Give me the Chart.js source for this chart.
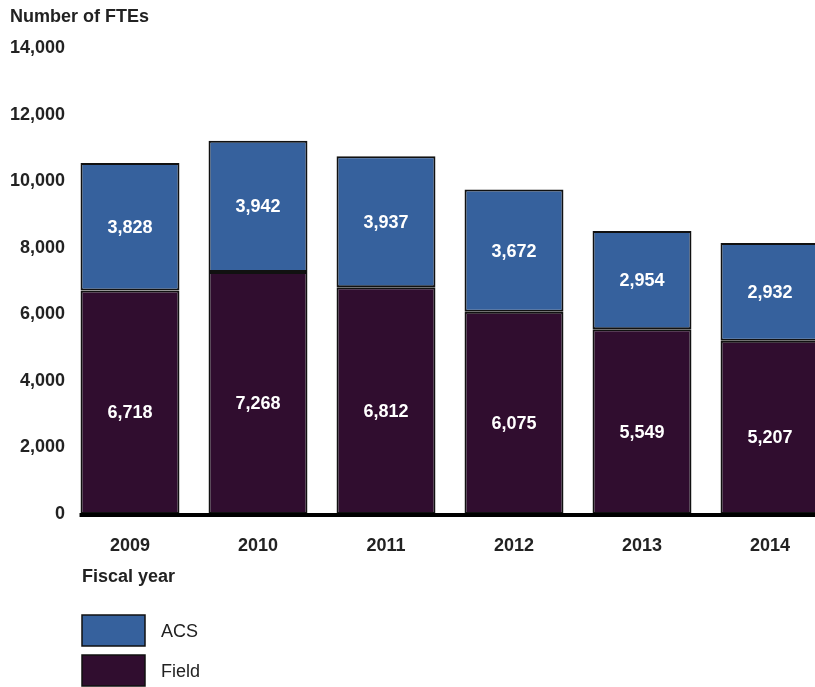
<!DOCTYPE html>
<html>
<head>
<meta charset="utf-8">
<script src="https://cdn.jsdelivr.net/npm/chart.js@4/dist/chart.umd.min.js"></script>
<style>
    body { margin: 0; overflow: hidden; background: #fff; }
    #wrap { width: 834px; height: 687px; }
</style>
</head>
<body>
<div id="wrap"><canvas id="fte_chart" width="834" height="687"></canvas></div>
<script>
var years = ['2009', '2010', '2011', '2012', '2013', '2014'];
var acs_values = [3828, 3942, 3937, 3672, 2954, 2932];
var field_values = [6718, 7268, 6812, 6075, 5549, 5207];
var y_ticks = [0, 2000, 4000, 6000, 8000, 10000, 12000, 14000];

var FONT = "'Liberation Sans', Arial, sans-serif";
var TEXT_COLOR = '#222222';

// numbers inside each bar segment, title, axis line, x title, legend
var extrasPlugin = {
    id: 'extras',
    afterDatasetsDraw: function (chart) {
        var ctx = chart.ctx;
        ctx.save();
        ctx.font = 'bold 18px ' + FONT;
        ctx.fillStyle = '#ffffff';
        ctx.textAlign = 'center';
        ctx.textBaseline = 'middle';
        chart.data.datasets.forEach(function (ds, i) {
            var meta = chart.getDatasetMeta(i);
            // field numbers sit a little below the middle of their segment
            var shift = i == 0 ? 11 : 1;
            meta.data.forEach(function (bar, j) {
                var p = bar.getProps(['x', 'y', 'base'], true);
                ctx.fillText(ds.data[j].toLocaleString('en-US'), p.x, (p.y + p.base) / 2 + shift);
            });
        });

        // thick baseline
        var first = chart.getDatasetMeta(0).data[0].getProps(['x', 'width'], true);
        var y0 = chart.scales.y.getPixelForValue(0);
        ctx.fillStyle = '#000000';
        ctx.fillRect(first.x - first.width / 2 - 1, y0 - 1, chart.width, 4);

        ctx.fillStyle = TEXT_COLOR;
        ctx.textAlign = 'left';
        ctx.font = 'bold 18px ' + FONT;
        ctx.fillText('Number of FTEs', 10, 17);
        ctx.fillText('Fiscal year', 82, 577);

        // legend
        var items = [chart.data.datasets[1], chart.data.datasets[0]];
        items.forEach(function (ds, k) {
            var top = 615 + k * 40;
            ctx.fillStyle = ds.backgroundColor;
            ctx.fillRect(82, top, 63, 31);
            ctx.strokeStyle = '#111111';
            ctx.lineWidth = 1.5;
            ctx.strokeRect(82, top, 63, 31);
            ctx.fillStyle = TEXT_COLOR;
            ctx.font = '18px ' + FONT;
            ctx.fillText(ds.label, 161, top + 17);
        });
        ctx.restore();
    }
};

new Chart(document.getElementById('fte_chart'), {
    type: 'bar',
    data: {
        labels: years,
        datasets: [{
            label: 'Field',
            data: field_values,
            backgroundColor: '#300d2f',
            borderColor: '#111111',
            borderWidth: 2,
            borderSkipped: false,
            barPercentage: 0.773,
            categoryPercentage: 1
        }, {
            label: 'ACS',
            data: acs_values,
            backgroundColor: '#36619d',
            borderColor: '#111111',
            borderWidth: 2,
            borderSkipped: false,
            barPercentage: 0.773,
            categoryPercentage: 1
        }]
    },
    options: {
        responsive: false,
        animation: false,
        layout: { padding: { top: 48, left: 0, right: 0, bottom: 0 } },
        plugins: {
            legend: { display: false },
            tooltip: { enabled: false }
        },
        scales: {
            x: {
                stacked: true,
                grid: { display: false, drawTicks: false },
                border: { display: false },
                ticks: {
                    color: TEXT_COLOR,
                    font: { family: FONT, size: 18, weight: 'bold' },
                    padding: 21
                },
                afterFit: function (scale) { scale.height = 173; }
            },
            y: {
                stacked: true,
                min: 0,
                max: 14000,
                grid: { display: false, drawTicks: false },
                border: { display: false },
                afterBuildTicks: function (scale) {
                    scale.ticks = y_ticks.map(function (v) { return { value: v }; });
                },
                ticks: {
                    color: TEXT_COLOR,
                    font: { family: FONT, size: 18, weight: 'bold' },
                    padding: 1,
                    callback: function (v) { return v.toLocaleString('en-US'); }
                },
                afterFit: function (scale) { scale.width = 66; }
            }
        }
    },
    plugins: [extrasPlugin]
});
</script>
</body>
</html>
